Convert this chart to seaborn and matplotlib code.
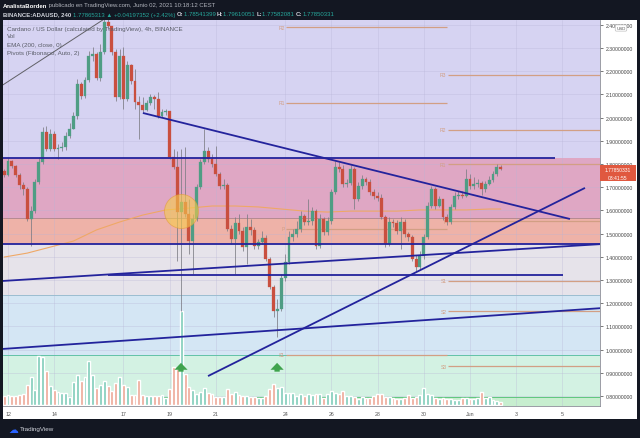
import matplotlib
matplotlib.use("Agg")
import matplotlib.pyplot as plt
from matplotlib.patches import Rectangle
import numpy as np
import pandas as pd
import seaborn as sns

# BINANCE:ADAUSD 4h bars, first bar opens 11 May 20:00 (x axis = day of May)
first_bar_day = 11 + 20 / 24
first_open = 1.770

close = [
	1.753, 1.813, 1.791, 1.753, 1.709, 1.692, 1.563, 1.597, 1.722, 1.809,
	1.938, 1.865, 1.929, 1.865, 1.869, 1.873, 1.921, 1.951, 2.007, 2.145,
	2.093, 2.162, 2.266, 2.274, 2.171, 2.283, 2.412, 2.395, 2.283, 2.088,
	2.266, 2.080, 2.227, 2.158, 2.067, 2.054, 2.033, 2.063, 2.088, 2.080,
	2.007, 2.024, 2.028, 1.830, 1.787, 1.593, 1.636, 1.584, 1.468, 1.563,
	1.701, 1.809, 1.856, 1.822, 1.800, 1.757, 1.705, 1.709, 1.520, 1.477,
	1.546, 1.511, 1.442, 1.528, 1.516, 1.447, 1.464, 1.481, 1.391, 1.270,
	1.166, 1.175, 1.309, 1.378, 1.485, 1.498, 1.520, 1.576, 1.550, 1.554,
	1.597, 1.447, 1.563, 1.507, 1.554, 1.679, 1.787, 1.778, 1.714, 1.718,
	1.778, 1.649, 1.705, 1.735, 1.722, 1.679, 1.662, 1.653, 1.572, 1.455,
	1.550, 1.546, 1.511, 1.550, 1.498, 1.485, 1.391, 1.356, 1.403, 1.485,
	1.619, 1.692, 1.619, 1.649, 1.572, 1.550, 1.615, 1.662, 1.666, 1.662,
	1.735, 1.705, 1.714, 1.718, 1.692, 1.714, 1.731, 1.757, 1.785, 1.7785,
]
high = [
	1.778, 1.826, 1.817, 1.796, 1.761, 1.722, 1.701, 1.619, 1.735, 1.830,
	1.959, 1.964, 1.951, 1.942, 1.886, 1.895, 1.938, 1.977, 2.024, 2.166,
	2.153, 2.175, 2.287, 2.304, 2.283, 2.317, 2.434, 2.434, 2.395, 2.296,
	2.296, 2.304, 2.244, 2.231, 2.209, 2.093, 2.088, 2.076, 2.101, 2.097,
	2.110, 2.037, 2.037, 2.028, 1.865, 1.856, 1.865, 1.873, 1.649, 1.584,
	1.714, 1.822, 1.951, 1.873, 1.843, 1.878, 1.766, 1.735, 1.718, 1.537,
	1.572, 1.584, 1.528, 1.584, 1.563, 1.528, 1.477, 1.511, 1.494, 1.399,
	1.278, 1.218, 1.326, 1.412, 1.511, 1.520, 1.554, 1.597, 1.584, 1.649,
	1.615, 1.606, 1.584, 1.572, 1.572, 1.692, 1.813, 1.809, 1.796, 1.735,
	1.796, 1.787, 1.722, 1.753, 1.744, 1.735, 1.692, 1.679, 1.671, 1.580,
	1.572, 1.563, 1.559, 1.572, 1.563, 1.507, 1.494, 1.408, 1.425, 1.498,
	1.636, 1.705, 1.701, 1.662, 1.649, 1.584, 1.628, 1.679, 1.684, 1.684,
	1.778, 1.757, 1.744, 1.735, 1.727, 1.727, 1.748, 1.770, 1.800, 1.7961,
]
low = [
	1.744, 1.748, 1.783, 1.744, 1.692, 1.666, 1.554, 1.447, 1.589, 1.714,
	1.800, 1.856, 1.856, 1.856, 1.822, 1.856, 1.860, 1.912, 1.951, 1.994,
	2.080, 2.084, 2.153, 2.244, 2.162, 2.158, 2.274, 2.382, 2.270, 2.071,
	2.080, 2.037, 2.071, 2.145, 2.037, 1.908, 2.024, 2.028, 2.054, 2.037,
	1.998, 2.003, 2.011, 1.822, 1.778, 1.382, 1.166, 1.572, 1.412, 1.326,
	1.554, 1.692, 1.800, 1.809, 1.787, 1.748, 1.692, 1.692, 1.511, 1.455,
	1.326, 1.498, 1.425, 1.369, 1.494, 1.434, 1.434, 1.455, 1.382, 1.261,
	1.141, 1.054, 1.166, 1.296, 1.369, 1.468, 1.485, 1.507, 1.537, 1.537,
	1.537, 1.434, 1.438, 1.494, 1.494, 1.541, 1.671, 1.766, 1.701, 1.701,
	1.709, 1.606, 1.641, 1.692, 1.709, 1.666, 1.649, 1.641, 1.563, 1.442,
	1.447, 1.528, 1.498, 1.434, 1.485, 1.468, 1.382, 1.339, 1.347, 1.391,
	1.477, 1.610, 1.606, 1.615, 1.559, 1.537, 1.541, 1.606, 1.649, 1.653,
	1.658, 1.692, 1.692, 1.701, 1.666, 1.679, 1.709, 1.722, 1.748, 1.7758,
]
# volume in relative units (no scale shown on the chart)
volume = [
	9, 10, 9, 9, 10, 11, 20, 28, 15, 49,
	48, 34, 19, 15, 13, 12, 12, 8, 23, 30,
	24, 28, 44, 30, 17, 20, 24, 19, 14, 22,
	28, 20, 18, 10, 10, 25, 10, 9, 9, 9,
	9, 10, 7, 16, 38, 36, 94, 31, 18, 15,
	11, 13, 17, 12, 11, 8, 8, 8, 16, 11,
	13, 10, 9, 9, 8, 8, 7, 7, 9, 16,
	21, 17, 18, 12, 12, 12, 9, 11, 9, 11,
	10, 11, 11, 7, 11, 14, 12, 11, 14, 9,
	9, 8, 6, 8, 7, 7, 9, 11, 11, 8,
	8, 7, 6, 6, 7, 10, 7, 8, 10, 17,
	11, 10, 7, 6, 7, 6, 6, 5, 5, 7,
	7, 6, 6, 7, 13, 7, 8, 5, 4, 3,
]

# EMA(200) read once per day
ema_bar = [0, 6, 12, 18, 24, 30, 36, 42, 48, 54, 60, 66, 72, 78, 84, 90, 96, 102, 108, 114, 120, 126, 129]
ema_200 = [1.399, 1.416, 1.442, 1.468, 1.516, 1.550, 1.580, 1.602, 1.610, 1.619, 1.619, 1.615,
	1.606, 1.597, 1.593, 1.597, 1.597, 1.597, 1.602, 1.602, 1.602, 1.606, 1.606]

# Fibonacci pivots: week of 24 May and week of 31 May
pivot_names_1 = ["R2", "R1", "P", "S1"]
pivot_values_1 = [2.390, 2.063, 1.520, 0.977]
pivot_names_2 = ["R3", "R2", "R1", "P", "S1", "S2", "S3"]
pivot_values_2 = [2.184, 1.947, 1.800, 1.554, 1.296, 1.166, 0.929]
pivot_weeks = [24, 31, 37.7]

# shaded zones (price edges, top to bottom)
zone_edges = [2.5, 1.826, 1.567, 1.455, 1.235, 0.977, 0.796, 0.70]
zone_colors = ["#d6d3f2", "#dfa7c4", "#eeb2a8", "#e6e3ea", "#d4e6f4", "#d3f2e3", "#c7eecf"]

# user drawn lines: (day, price) -> (day, price)
trend_days = [(11.78, 35.68), (11.78, 37.7), (17.84, 36.33), (11.78, 37.7), (11.78, 37.7), (16.33, 36.03), (20.66, 36.98)]
trend_prices = [(1.826, 1.826), (1.455, 1.455), (2.020, 1.563), (1.003, 1.179), (1.296, 1.455), (1.322, 1.322), (0.886, 1.697)]

day_ticks = [12, 14, 17, 19, 21, 24, 26, 28, 30, 32, 34, 36]
day_labels = ["12", "14", "17", "19", "21", "24", "26", "28", "30", "Jun", "3", "5"]
price_ticks = [0.8, 0.9, 1.0, 1.1, 1.2, 1.3, 1.4, 1.5, 1.6, 1.7, 1.8, 1.9, 2.0, 2.1, 2.2, 2.3, 2.4]

W, H = 640, 439
UP, DOWN, WICK = "#4f9d84", "#c94f3f", "#7c7c84"
NAVY = "#23239c"
PIVOT = "#d29f84"
TEAL = "#26a69a"


def fx(px):
	return px / W


def fy(py):
	return 1 - py / H


def main() -> None:
	sns.set_style("white")
	plt.rcParams["font.family"] = ["Liberation Sans", "DejaVu Sans"]

	opens = [first_open] + close[:-1]
	bars = pd.DataFrame({"open": opens, "high": high, "low": low, "close": close, "volume": volume})
	bars["day"] = first_bar_day + np.arange(len(bars)) / 6
	bars["up"] = bars["close"] >= bars["open"]

	fig = plt.figure(figsize=(W / 100, H / 100), dpi=100, facecolor="#131722")
	fig.patches.append(Rectangle((fx(3), fy(420)), fx(637) - fx(3), fy(21) - fy(420),
		transform=fig.transFigure, facecolor="white", edgecolor="none", zorder=-5))
	ax = fig.add_axes([fx(3), fy(407), fx(600) - fx(3), fy(21) - fy(407)])
	ax.set_xlim(11.784, 37.63)
	ax.set_ylim(0.757, 2.4207)

	for top, bottom, color in zip(zone_edges[:-1], zone_edges[1:], zone_colors):
		ax.axhspan(bottom, top, color=color, lw=0, zorder=0.1)
	for level, color in [(1.567, "#b58a92"), (1.235, "#9bbdd0"), (0.977, "#62c2a8"), (0.796, "#5fc77e")]:
		ax.axhline(level, color=color, lw=0.7, zorder=0.6)

	ax.set_axisbelow(True)
	ax.grid(True, color="#b7b5d6", lw=0.5, alpha=0.45)

	# pivots
	for names, values, start, end in [
		(pivot_names_1, pivot_values_1, pivot_weeks[0], pivot_weeks[1]),
		(pivot_names_2, pivot_values_2, pivot_weeks[1], pivot_weeks[2]),
	]:
		ax.hlines(values, start + 0.05, end, color=PIVOT, lw=0.9, zorder=1)
		for name, value in zip(names, values):
			ax.text(start - 0.02, value, name, color=PIVOT, fontsize=3.6, ha="right", va="center", zorder=1)

	# volume overlay at the bottom of the pane
	vol_scale = 0.2435 / max(volume)
	vol_colors = np.where(bars["up"], "#7ccbb8", "#eda695")
	ax.bar(bars["day"], bars["volume"] * vol_scale, width=0.125, bottom=0.002,
		color=vol_colors, transform=ax.get_xaxis_transform(), zorder=1.5)

	# EMA 200
	ema = pd.DataFrame({"day": first_bar_day + np.array(ema_bar) / 6, "ema": ema_200})
	sns.lineplot(data=ema, x="day", y="ema", ax=ax, color="#efa866", lw=0.8, zorder=2)

	# candles
	colors = np.where(bars["up"], UP, DOWN)
	ax.vlines(bars["day"], bars["low"], bars["high"], color=WICK, lw=0.55, zorder=3)
	body_low = bars[["open", "close"]].min(axis=1)
	body_h = (bars["close"] - bars["open"]).abs().clip(lower=0.003)
	ax.bar(bars["day"], body_h, bottom=body_low, width=0.125, color=colors,
		edgecolor=colors, lw=0.2, zorder=4)

	# drawings
	for days, prices in zip(trend_days, trend_prices):
		ax.plot(days, prices, color=NAVY, lw=1.3, zorder=5, solid_capstyle="butt")
	ax.plot([11.78, 16.4], [2.141, 2.44], color="#606066", lw=0.7, zorder=5)
	ax.scatter([19.49], [1.597], s=600, facecolor="#f7cc4a", alpha=0.6, edgecolor="#e39a35",
		lw=0.6, zorder=6)
	for day in [19.49, 23.65]:
		ax.annotate("", xy=(day, 0.955), xytext=(day, 0.893),
			arrowprops=dict(arrowstyle="simple,head_length=0.5,head_width=0.95,tail_width=0.38",
				color="#3fa34d", lw=0), zorder=6)

	# axes
	ax.set_xticks(day_ticks)
	ax.set_xticklabels(day_labels)
	ax.set_yticks(price_ticks)
	ax.set_yticklabels([f"{v:.8f}" for v in price_ticks])
	ax.yaxis.tick_right()
	ax.tick_params(axis="y", labelsize=3.7, colors="#444444", length=2, width=0.5, pad=2)
	ax.tick_params(axis="x", labelsize=3.8, colors="#555555", length=2, width=0.5, pad=1.5)
	for side in ["top", "left"]:
		ax.spines[side].set_visible(False)
	for side in ["right", "bottom"]:
		ax.spines[side].set_color("#8a8d96")
		ax.spines[side].set_linewidth(0.6)
	ax.set_xlabel("")
	ax.set_ylabel("")

	# legend in the pane
	for i, line in enumerate(["Cardano / US Dollar (calculated by TradingView), 4h, BINANCE", "Vol",
		"EMA (200, close, 0)", "Pivots (Fibonacci, Auto, 2)"]):
		fig.text(fx(7), fy(29 + 8 * i), line, color="#5a5d68", fontsize=4.5, va="center")

	# price tag and currency box
	fig.patches.append(Rectangle((fx(600), fy(182)), fx(36), 16 / H,
		transform=fig.transFigure, facecolor="#e0583f", edgecolor="none", zorder=3))
	fig.text(fx(618), fy(170.5), "1.77850331", color="white", fontsize=3.6, ha="center", va="center", zorder=4)
	fig.text(fx(618), fy(178), "03:41:55", color="white", fontsize=3.6, ha="center", va="center", zorder=4)
	fig.text(fx(621), fy(29), "USD", color="#555555", fontsize=3.2, ha="center", va="center", zorder=4,
		bbox=dict(boxstyle="round,pad=0.25", facecolor="white", edgecolor="#b0b0b0", lw=0.4))

	# header
	prev = fig.text(fx(3), fy(6), "AnalistaBorden", color="white", fontsize=4.3, weight="bold", va="center")
	ax.annotate(" publicado en TradingView.com, Junio 02, 2021 10:18:12 CEST", xy=(1, 0.5), xycoords=prev,
		color="#b2b5be", fontsize=4.3, va="center", annotation_clip=False)
	parts = [
		("BINANCE:ADAUSD, 240 ", "#d1d4dc"), ("1.77865313 ▲ +0.04197352 (+2.42%) ", TEAL),
		("O:", "#d1d4dc"), ("1.78541399 ", TEAL), ("H:", "#d1d4dc"), ("1.79610051 ", TEAL),
		("L:", "#d1d4dc"), ("1.77582081 ", TEAL), ("C:", "#d1d4dc"), ("1.77850331", TEAL),
	]
	prev = fig.text(fx(3), fy(15), parts[0][0], color=parts[0][1], fontsize=4.35, weight="bold", va="center")
	for text, color in parts[1:]:
		prev = ax.annotate(text, xy=(1, 0.5), xycoords=prev, color=color, fontsize=4.35,
			weight="bold" if color != TEAL else "normal", va="center", annotation_clip=False)

	# footer
	fig.text(fx(13), fy(430), "☁", color="#2962ff", fontsize=7, ha="center", va="center",
		family=["DejaVu Sans"])
	fig.text(fx(20), fy(430), "TradingView", color="#d1d4dc", fontsize=4.5, va="center")

	fig.savefig("out.png", dpi=100, facecolor=fig.get_facecolor())
	plt.close(fig)


if __name__ == "__main__":
	main()
